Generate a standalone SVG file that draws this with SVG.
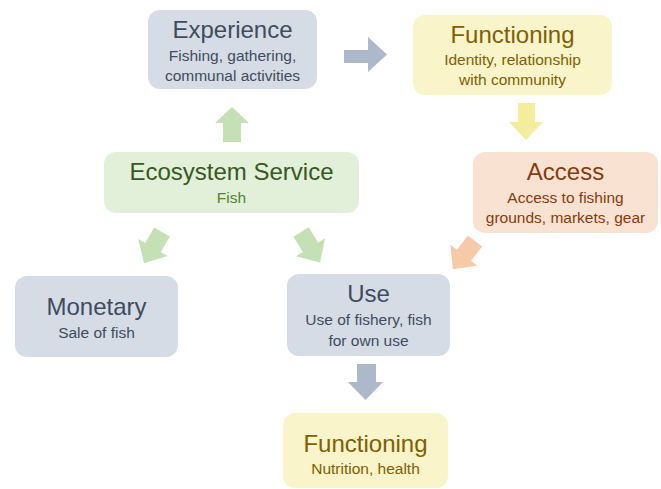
<svg xmlns="http://www.w3.org/2000/svg" width="661" height="489" viewBox="0 0 661 489">
<style>
text{font-family:"Liberation Sans",Arial,sans-serif;text-anchor:middle}
.t{font-size:24px}
.s{font-size:15.5px}
.blue rect{fill:#d6dce5}
.blue text{fill:#3e4c60}
.green rect{fill:#e2f0d9}
.green text{fill:#385723}
.green text.s{fill:#548235}
.yellow rect{fill:#f9f4c9}
.yellow text{fill:#7f6000}
.orange rect{fill:#f9e2d2}
.orange text{fill:#843c0c}
</style>
<defs>
<path id="arr" d="M0,-9 H18 V-17 L36,0 L18,17 V9 H0 Z"/>
</defs>
<rect width="661" height="489" fill="#ffffff"/>
<g id="connectors">
<path d="M344,50 H368 V37 L387,54.5 L368,72 V63 H344 Z" fill="#adb9ca"/>
<path d="M223,142 V123 H215 L232,107 L249,123 H241 V142 Z" fill="#c5e0b4"/>
<path d="M518,103 H535 V122 H543 L526,140 L509,122 H518 Z" fill="#f3ed9c"/>
<path d="M357,364 H376 V382 H383 L365.5,400 L348,382 H357 Z" fill="#adb9ca"/>
<use href="#arr" transform="translate(162,232) rotate(120)" fill="#c5e0b4"/>
<use href="#arr" transform="translate(301,232) rotate(58)" fill="#c5e0b4"/>
<use href="#arr" transform="translate(475,241) rotate(128)" fill="#f6caa8"/>
</g>
<g id="experience" class="blue">
<rect x="148" y="10" width="169" height="79" rx="12"/>
<text class="t" x="232.5" y="38">Experience</text>
<text class="s" x="232.5" y="61">Fishing, gathering,</text>
<text class="s" x="232.5" y="81">communal activities</text>
</g>
<g id="functioning-top" class="yellow">
<rect x="413" y="15" width="199" height="80" rx="12"/>
<text class="t" x="512.5" y="43">Functioning</text>
<text class="s" x="512.5" y="65">Identity, relationship</text>
<text class="s" x="512.5" y="85">with community</text>
</g>
<g id="ecosystem-service" class="green">
<rect x="104" y="152" width="255" height="61" rx="12"/>
<text class="t" x="231.5" y="180">Ecosystem Service</text>
<text class="s" x="231.5" y="203">Fish</text>
</g>
<g id="access" class="orange">
<rect x="473" y="152" width="185" height="81" rx="12"/>
<text class="t" x="565.5" y="180">Access</text>
<text class="s" x="565.5" y="203">Access to fishing</text>
<text class="s" x="565.5" y="223">grounds, markets, gear</text>
</g>
<g id="monetary" class="blue">
<rect x="15" y="276" width="163" height="81" rx="12"/>
<text class="t" x="96.5" y="315">Monetary</text>
<text class="s" x="96.5" y="338">Sale of fish</text>
</g>
<g id="use" class="blue">
<rect x="287" y="274" width="163" height="82" rx="12"/>
<text class="t" x="368.5" y="302">Use</text>
<text class="s" x="368.5" y="325">Use of fishery, fish</text>
<text class="s" x="368.5" y="346">for own use</text>
</g>
<g id="functioning-bottom" class="yellow">
<rect x="283" y="413" width="165" height="75" rx="12"/>
<text class="t" x="365.5" y="452">Functioning</text>
<text class="s" x="365.5" y="474">Nutrition, health</text>
</g>
</svg>
